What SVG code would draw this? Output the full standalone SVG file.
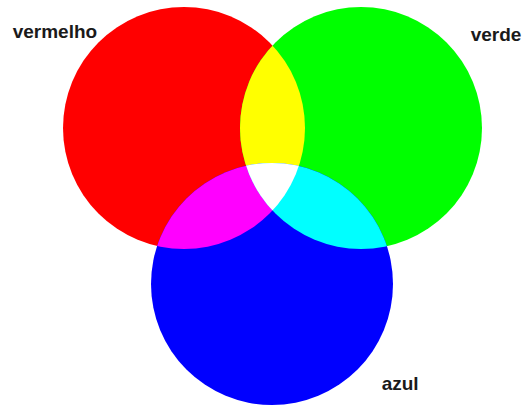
<svg xmlns="http://www.w3.org/2000/svg" width="528" height="407" viewBox="0 0 528 407">
<style>
.lbl{font-family:"Liberation Sans",Arial,sans-serif;font-weight:bold;font-size:19px;fill:#1a1a1a}
</style>
<defs>
<circle id="cR" cx="184" cy="128" r="121"/>
<circle id="cG" cx="361" cy="128" r="121"/>
<circle id="cB" cx="272" cy="284" r="121"/>
<clipPath id="clipR"><use href="#cR"/></clipPath>
<clipPath id="clipG"><use href="#cG"/></clipPath>
</defs>
<rect width="528" height="407" fill="#ffffff"/>
<g id="red"><use href="#cR" fill="#ff0000"/></g>
<g id="green"><use href="#cG" fill="#00ff00"/></g>
<g id="blue"><use href="#cB" fill="#0000ff"/></g>
<g id="yellow" clip-path="url(#clipR)"><use href="#cG" fill="#ffff00"/></g>
<g id="magenta" clip-path="url(#clipR)"><use href="#cB" fill="#ff00ff"/></g>
<g id="cyan" clip-path="url(#clipG)"><use href="#cB" fill="#00ffff"/></g>
<g id="white" clip-path="url(#clipR)"><g clip-path="url(#clipG)"><use href="#cB" fill="#ffffff"/></g></g>
<g id="labels">
<text class="lbl" x="12.7" y="38">vermelho</text>
<text class="lbl" x="470.7" y="41">verde</text>
<text class="lbl" x="381.7" y="390">azul</text>
</g>
</svg>
